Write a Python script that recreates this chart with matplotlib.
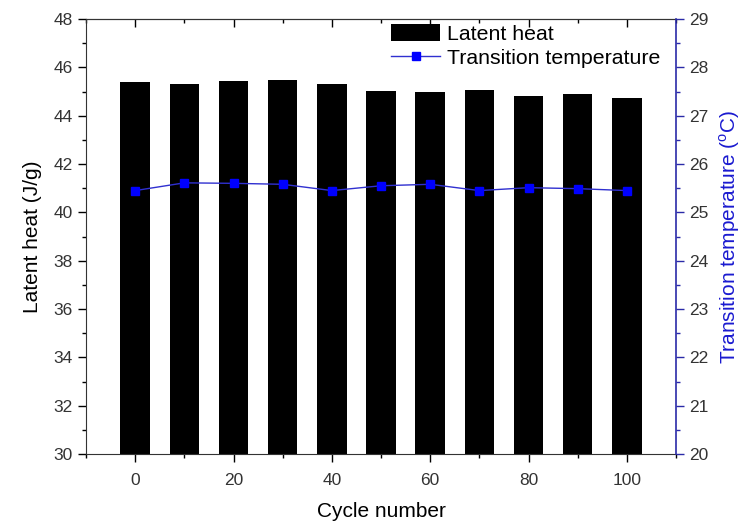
import matplotlib
matplotlib.use("Agg")
import matplotlib.pyplot as plt
from matplotlib.ticker import MultipleLocator

plt.rcParams['font.family'] = ['Liberation Sans', 'DejaVu Sans']
plt.rcParams['mathtext.fontset'] = 'custom'
plt.rcParams['mathtext.rm'] = 'Liberation Sans'

cycles = [0, 10, 20, 30, 40, 50, 60, 70, 80, 90, 100]
latent_heat = [45.38, 45.33, 45.42, 45.49, 45.30, 45.04, 44.96, 45.08, 44.81, 44.90, 44.74]
transition_temp = [25.45, 25.61, 25.60, 25.58, 25.45, 25.55, 25.58, 25.45, 25.51, 25.49, 25.45]

fig = plt.figure(figsize=(7.46, 5.24), dpi=100)
ax = fig.add_axes([86/746, 1-454/524, (676-86)/746, (454-19)/524])
ax2 = ax.twinx()

bars = ax.bar(cycles, latent_heat, width=6, color='black', label='Latent heat', zorder=2)
line, = ax2.plot(cycles, transition_temp, color='#3030d0', lw=1.0, marker='s',
                 markersize=5.5, markerfacecolor='#0000ff', markeredgecolor='#0000ff',
                 label='Transition temperature')

ax.set_xlim(-10, 110)
ax.set_ylim(30, 48)
ax2.set_ylim(20, 29)

ax.xaxis.set_major_locator(MultipleLocator(20))
ax.xaxis.set_minor_locator(MultipleLocator(10))
ax.yaxis.set_major_locator(MultipleLocator(2))
ax.yaxis.set_minor_locator(MultipleLocator(1))
ax2.yaxis.set_major_locator(MultipleLocator(1))
ax2.yaxis.set_minor_locator(MultipleLocator(0.5))

tick_col = '#333333'
ax.tick_params(axis='x', which='major', direction='out', length=6, width=1, labelsize=12.5,
               pad=8, top=False, labelcolor=tick_col)
ax.tick_params(axis='x', which='minor', direction='out', length=3, width=1, top=False)
ax.tick_params(axis='y', which='major', direction='out', length=6, width=1, labelsize=12.5,
               right=False, labelcolor=tick_col)
ax.tick_params(axis='y', which='minor', direction='out', length=3, width=1, right=False)

# top ticks pointing inward
top = ax.secondary_xaxis('top')
top.xaxis.set_major_locator(MultipleLocator(20))
top.xaxis.set_minor_locator(MultipleLocator(10))
top.tick_params(which='major', direction='in', length=6, width=1, labeltop=False)
top.tick_params(which='minor', direction='in', length=3, width=1)
top.spines['top'].set_color('#333333')

blue = '#2a2aa8'
ax2.tick_params(axis='y', which='major', direction='out', length=6, width=1, colors=blue,
                labelcolor=tick_col, labelsize=12.5)
ax2.tick_params(axis='y', which='minor', direction='out', length=3, width=1, colors=blue)
ax2.spines['right'].set_color(blue)
ax2.spines['right'].set_linewidth(1.2)
for s in ['top', 'left', 'bottom']:
    ax.spines[s].set_color('#333333')
    ax2.spines[s].set_visible(False)
ax.spines['right'].set_visible(False)

ax.set_xlabel('Cycle number', fontsize=15, labelpad=10)
ax.set_ylabel('Latent heat (J/g)', fontsize=15, labelpad=8)
ax2.set_ylabel('Transition temperature ($^{\\mathrm{o}}$C)', fontsize=15, color='#1a1ad0', labelpad=6)

leg = ax.legend([bars, line], ['Latent heat', 'Transition temperature'],
                loc='upper right', bbox_to_anchor=(660/746, 1-24/524),
                bbox_transform=fig.transFigure, frameon=False, fontsize=15.3,
                handlelength=2.3, handleheight=0.85, handletextpad=0.3, labelspacing=0.2,
                borderaxespad=0, borderpad=0)

fig.savefig('out.png', dpi=100)
